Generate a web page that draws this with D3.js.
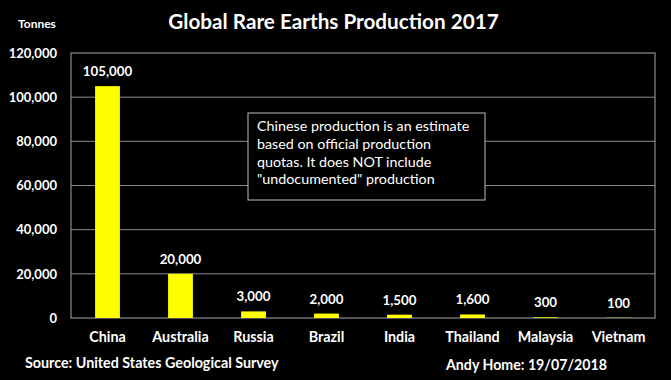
<!DOCTYPE html>
<html><head><meta charset="utf-8">
<script src="https://cdn.jsdelivr.net/npm/d3@7/dist/d3.min.js"></script>
<style>html,body{margin:0;padding:0;background:#000;}svg{display:block;}</style>
</head><body>
<script>
const countries = ["China","Australia","Russia","Brazil","India","Thailand","Malaysia","Vietnam"];
const production = [105000,20000,3000,2000,1500,1600,300,100];
const valueLabels = ["105,000","20,000","3,000","2,000","1,500","1,600","300","100"];
const yTicks = [0,20000,40000,60000,80000,100000,120000];
const noteLines = ["Chinese production is an estimate","based on official production","quotas. It does NOT include","\"undocumented\" production"];

const W=671,H=380;
const font="Lato, 'Open Sans', sans-serif";
const svg=d3.select("body").append("svg").attr("width",W).attr("height",H).style("background","#000");
const m={l:71,r:655,t:53,b:318};
const x=d3.scaleBand().domain(countries).range([m.l,m.r]).paddingInner(0.66).paddingOuter(0.33);
const y=d3.scaleLinear().domain([0,120000]).range([m.b,m.t]);

// gridlines
svg.append("g").selectAll("line").data(yTicks.filter(d=>d>0&&d<120000)).join("line")
 .attr("x1",m.l).attr("x2",m.r).attr("y1",d=>y(d)).attr("y2",d=>y(d))
 .attr("stroke","#8c8c8c").attr("stroke-width",1);
// frame
svg.append("rect").attr("x",m.l).attr("y",m.t).attr("width",m.r-m.l).attr("height",m.b-m.t)
 .attr("fill","none").attr("stroke","#a6a6a6").attr("stroke-width",1);

// y axis
const ya=svg.append("g").attr("transform",`translate(${m.l},0)`)
 .call(d3.axisLeft(y).tickValues(yTicks).tickFormat(d3.format(",")).tickSize(0).tickPadding(14));
ya.select(".domain").remove();
ya.selectAll("text").attr("fill","#fff").attr("font-family",font).attr("font-weight","bold").attr("font-size",13);

// x axis
const xa=svg.append("g").attr("transform",`translate(0,${m.b})`)
 .call(d3.axisBottom(x).tickSize(0).tickPadding(14));
xa.select(".domain").remove();
xa.selectAll("text").attr("fill","#fff").attr("font-family",font).attr("font-weight","bold").attr("font-size",14.3);

// bars
const data=countries.map((c,i)=>({c,v:production[i],l:valueLabels[i]}));
svg.append("g").selectAll("rect").data(data).join("rect")
 .attr("x",d=>x(d.c)).attr("width",x.bandwidth())
 .attr("y",d=>y(d.v)).attr("height",d=>y(0)-y(d.v)).attr("fill","#ffff00");
svg.append("g").selectAll("text").data(data).join("text")
 .attr("x",d=>x(d.c)+x.bandwidth()/2).attr("y",d=>y(d.v)-10)
 .attr("text-anchor","middle").attr("fill","#fff").attr("font-family",font)
 .attr("font-weight","bold").attr("font-size",13.3).text(d=>d.l);

// annotation box
svg.append("rect").attr("x",248).attr("y",113).attr("width",237).attr("height",87)
 .attr("fill","#000").attr("stroke","#bfbfbf").attr("stroke-width",1);
svg.append("g").selectAll("text").data(noteLines).join("text")
 .attr("x",257).attr("y",(d,i)=>131+i*17.8).attr("fill","#fff").attr("font-family",font)
 .attr("font-size",14.3).text(d=>d);

// titles
svg.append("text").attr("x",333.5).attr("y",29).attr("text-anchor","middle").attr("fill","#fff")
 .attr("font-family",font).attr("font-weight","bold").attr("font-size",20.7).text("Global Rare Earths Production 2017");
svg.append("text").attr("x",18).attr("y",28).attr("fill","#fff")
 .attr("font-family",font).attr("font-weight","bold").attr("font-size",12).text("Tonnes");
svg.append("text").attr("x",25).attr("y",368).attr("fill","#fff")
 .attr("font-family",font).attr("font-weight","bold").attr("font-size",14.3).text("Source: United States Geological Survey");
svg.append("text").attr("x",446).attr("y",370).attr("fill","#fff")
 .attr("font-family",font).attr("font-weight","bold").attr("font-size",14.2).text("Andy Home: 19/07/2018");
</script>
</body></html>
